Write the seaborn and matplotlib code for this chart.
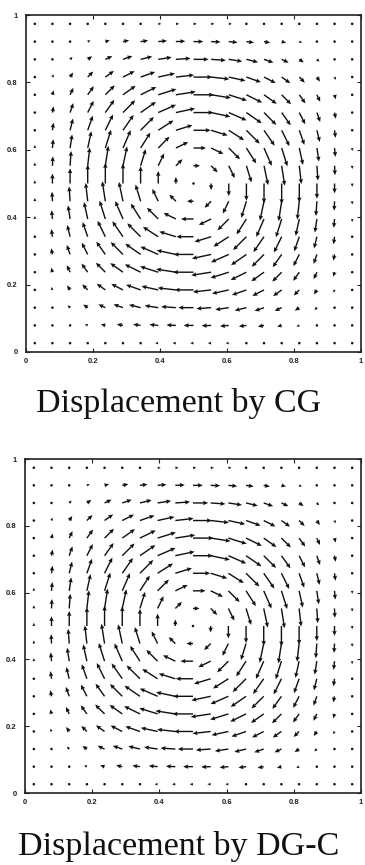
import numpy as np
import pandas as pd
import matplotlib
matplotlib.use("Agg")
import matplotlib.pyplot as plt
import seaborn as sns

# ---------------- data ----------------
# grid node positions (same in x and y)
grid_pos = [0.0263, 0.0789, 0.1316, 0.1842, 0.2368, 0.2895, 0.3421, 0.3947,
            0.4474, 0.5000, 0.5526, 0.6053, 0.6579, 0.7105, 0.7632, 0.8158,
            0.8684, 0.9211, 0.9737]

# horizontal displacement, hundredths; rows from bottom (y small) to top
u_disp = [
    [0, -1, -3, -5, -8, -10, -13, -15, -16, -16, -16, -15, -13, -10, -8, -5, -3, -1, 0],
    [0, -3, -8, -14, -22, -30, -37, -43, -46, -48, -46, -43, -37, -30, -22, -14, -8, -3, 0],
    [-1, -4, -12, -22, -34, -46, -57, -66, -72, -74, -72, -66, -57, -46, -34, -22, -12, -4, -1],
    [-1, -6, -15, -27, -42, -57, -71, -82, -89, -92, -89, -82, -71, -57, -42, -27, -15, -6, -1],
    [-1, -6, -16, -30, -46, -62, -77, -89, -97, -100, -97, -89, -77, -62, -46, -30, -16, -6, -1],
    [-1, -6, -16, -29, -44, -60, -75, -87, -94, -97, -94, -87, -75, -60, -44, -29, -16, -6, -1],
    [-1, -5, -14, -25, -38, -52, -65, -75, -81, -84, -81, -75, -65, -52, -38, -25, -14, -5, -1],
    [0, -4, -10, -18, -28, -38, -48, -55, -60, -61, -60, -55, -48, -38, -28, -18, -10, -4, 0],
    [0, -2, -5, -10, -15, -20, -25, -29, -32, -32, -32, -29, -25, -20, -15, -10, -5, -2, 0],
    [0, 0, 0, 0, 0, 0, 0, 0, 0, 0, 0, 0, 0, 0, 0, 0, 0, 0, 0],
    [0, 2, 5, 10, 15, 20, 25, 29, 32, 32, 32, 29, 25, 20, 15, 10, 5, 2, 0],
    [0, 4, 10, 18, 28, 38, 48, 55, 60, 61, 60, 55, 48, 38, 28, 18, 10, 4, 0],
    [1, 5, 14, 25, 38, 52, 65, 75, 81, 84, 81, 75, 65, 52, 38, 25, 14, 5, 1],
    [1, 6, 16, 29, 44, 60, 75, 87, 94, 97, 94, 87, 75, 60, 44, 29, 16, 6, 1],
    [1, 6, 16, 30, 46, 62, 77, 89, 97, 100, 97, 89, 77, 62, 46, 30, 16, 6, 1],
    [1, 6, 15, 27, 42, 57, 71, 82, 89, 92, 89, 82, 71, 57, 42, 27, 15, 6, 1],
    [1, 4, 12, 22, 34, 46, 57, 66, 72, 74, 72, 66, 57, 46, 34, 22, 12, 4, 1],
    [0, 3, 8, 14, 22, 30, 37, 43, 46, 48, 46, 43, 37, 30, 22, 14, 8, 3, 0],
    [0, 1, 3, 5, 8, 10, 13, 15, 16, 16, 16, 15, 13, 10, 8, 5, 3, 1, 0],
]

# vertical displacement, hundredths; rows from bottom to top
v_disp = [
    [0, 0, 1, 1, 1, 1, 1, 0, 0, 0, 0, 0, -1, -1, -1, -1, -1, 0, 0],
    [1, 3, 4, 6, 6, 6, 5, 4, 2, 0, -2, -4, -5, -6, -6, -6, -4, -3, -1],
    [3, 8, 12, 15, 16, 16, 14, 10, 5, 0, -5, -10, -14, -16, -16, -15, -12, -8, -3],
    [5, 14, 22, 27, 30, 29, 25, 18, 10, 0, -10, -18, -25, -29, -30, -27, -22, -14, -5],
    [8, 22, 34, 42, 46, 44, 38, 28, 15, 0, -15, -28, -38, -44, -46, -42, -34, -22, -8],
    [10, 30, 46, 57, 62, 60, 52, 38, 20, 0, -20, -38, -52, -60, -62, -57, -46, -30, -10],
    [13, 37, 57, 71, 77, 75, 65, 48, 25, 0, -25, -48, -65, -75, -77, -71, -57, -37, -13],
    [15, 43, 66, 82, 89, 87, 75, 55, 29, 0, -29, -55, -75, -87, -89, -82, -66, -43, -15],
    [16, 46, 72, 89, 97, 94, 81, 60, 32, 0, -32, -60, -81, -94, -97, -89, -72, -46, -16],
    [16, 48, 74, 92, 100, 97, 84, 61, 32, 0, -32, -61, -84, -97, -100, -92, -74, -48, -16],
    [16, 46, 72, 89, 97, 94, 81, 60, 32, 0, -32, -60, -81, -94, -97, -89, -72, -46, -16],
    [15, 43, 66, 82, 89, 87, 75, 55, 29, 0, -29, -55, -75, -87, -89, -82, -66, -43, -15],
    [13, 37, 57, 71, 77, 75, 65, 48, 25, 0, -25, -48, -65, -75, -77, -71, -57, -37, -13],
    [10, 30, 46, 57, 62, 60, 52, 38, 20, 0, -20, -38, -52, -60, -62, -57, -46, -30, -10],
    [8, 22, 34, 42, 46, 44, 38, 28, 15, 0, -15, -28, -38, -44, -46, -42, -34, -22, -8],
    [5, 14, 22, 27, 30, 29, 25, 18, 10, 0, -10, -18, -25, -29, -30, -27, -22, -14, -5],
    [3, 8, 12, 15, 16, 16, 14, 10, 5, 0, -5, -10, -14, -16, -16, -15, -12, -8, -3],
    [1, 3, 4, 6, 6, 6, 5, 4, 2, 0, -2, -4, -5, -6, -6, -6, -4, -3, -1],
    [0, 0, 1, 1, 1, 1, 1, 0, 0, 0, 0, 0, -1, -1, -1, -1, -1, 0, 0],
]

tick_vals = [0, 0.2, 0.4, 0.6, 0.8, 1]
tick_labels = ["0", "0.2", "0.4", "0.6", "0.8", "1"]
captions = ["Displacement by CG", "Displacement by DG-C"]

# ---------------- style ----------------
sns.set_theme(style="ticks")
plt.rcParams["font.family"] = ["Liberation Sans", "DejaVu Sans"]

W, H = 365, 865
fig = plt.figure(figsize=(W / 100, H / 100), dpi=100)
fig.patch.set_facecolor("white")

# axes rectangles in pixels: (left, top, right, bottom)
rects = [(26, 15, 361, 352), (25, 459, 361, 793)]
caption_base = [412, 855]

gx, gy = np.meshgrid(np.array(grid_pos), np.array(grid_pos))
U = np.array(u_disp, dtype=float) / 100.0
V = np.array(v_disp, dtype=float) / 100.0

for (l, t, r, b), cap, base in zip(rects, captions, caption_base):
    ax = fig.add_axes([l / W, 1 - b / H, (r - l) / W, (b - t) / H])
    ax.set_facecolor("white")
    ax.quiver(gx, gy, U, V, pivot="tail", angles="xy", scale_units="xy",
              scale=16.4, units="dots", width=1.4, headwidth=3.2,
              headlength=3.6, headaxislength=3.2, minlength=2.0,
              color="#111111")
    ax.set_xlim(0, 1)
    ax.set_ylim(0, 1)
    ax.set_xticks(tick_vals)
    ax.set_xticklabels(tick_labels)
    ax.set_yticks(tick_vals)
    ax.set_yticklabels(tick_labels)
    ax.tick_params(axis="both", direction="in", top=True, right=True,
                   length=3, width=0.8, colors="#222222", labelsize=5.5)
    ax.tick_params(axis="x", pad=4)
    ax.tick_params(axis="y", pad=6)
    for lab in ax.get_xticklabels() + ax.get_yticklabels():
        lab.set_fontweight("bold")
    for sp in ax.spines.values():
        sp.set_visible(True)
        sp.set_linewidth(1.2)
        sp.set_color("#222222")
    ax.grid(False)
    fig.text(178.5 / W, 1 - base / H, cap, ha="center", va="baseline",
             fontsize=24.5, family=["Liberation Serif", "DejaVu Serif"],
             color="#111111")

fig.savefig("out.png", dpi=100, facecolor="white")
